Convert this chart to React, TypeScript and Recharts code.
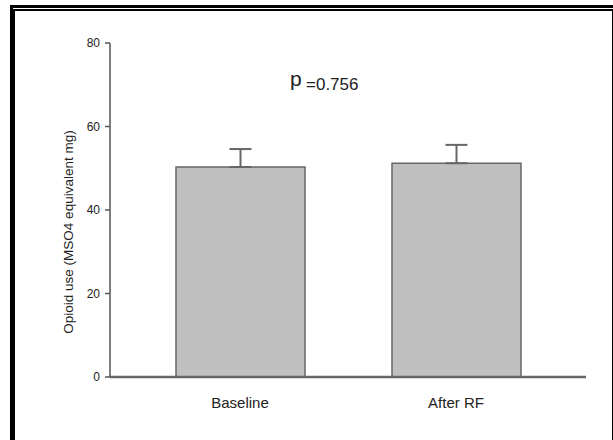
import React from "react";
import {
  BarChart,
  Bar,
  XAxis,
  YAxis,
  ErrorBar,
  Customized,
} from "recharts";

// values
const categories = ["Baseline", "After RF"];
const meanValues = [50.3, 51.2];
const errUpper = [4.3, 4.4];
const yTicks = [0, 20, 40, 60, 80];

const FONT = "'Liberation Sans', Arial, sans-serif";
const TEXT = "#222";

const data = categories.map((name, i) => ({
  name,
  value: meanValues[i],
  err: [0, errUpper[i]],
}));

const PLabel = () => (
  <g fontFamily={FONT} fill={TEXT}>
    <text x={290} y={86} fontSize={21}>
      p
    </text>
    <text x={306} y={90} fontSize={17}>
      =0.756
    </text>
  </g>
);

const YLabel = () => (
  <text
    x={68}
    y={232}
    transform="rotate(-90 68 232)"
    textAnchor="middle"
    dominantBaseline="central"
    fontFamily={FONT}
    fontSize={13.5}
    fill={TEXT}
  >
    Opioid use (MSO4 equivalent mg)
  </text>
);

const line = (style: React.CSSProperties) => (
  <div style={{ position: "absolute", background: "#000", ...style }} />
);

export default function App() {
  return (
    <div
      style={{
        position: "absolute",
        left: 0,
        top: 0,
        width: 613,
        height: 440,
        background: "#fff",
        overflow: "hidden",
      }}
    >
      {/* picture frame */}
      {line({ left: 10, top: 5, width: 603, height: 3 })}
      {line({ left: 10, top: 5, width: 3, height: 435 })}
      {line({ left: 13, top: 9, width: 600, height: 1.5 })}
      {line({ left: 13, top: 9, width: 1.5, height: 431 })}
      {line({ left: 611.5, top: 9, width: 1.5, height: 431 })}

      <div style={{ position: "absolute", left: 0, top: 0 }}>
        <BarChart
          width={613}
          height={440}
          data={data}
          margin={{ top: 43, right: 27, bottom: 33, left: 50 }}
        >
          <XAxis
            dataKey="name"
            height={30}
            padding={{ left: 22, right: 22 }}
            tickLine={false}
            tickSize={10}
            tickMargin={10}
            axisLine={{ stroke: "#666", strokeWidth: 2.5 }}
            tick={{ fill: TEXT, fontSize: 15, fontFamily: FONT }}
          />
          <YAxis
            width={60}
            domain={[0, 80]}
            ticks={yTicks}
            interval={0}
            tickSize={5}
            tickMargin={5}
            axisLine={{ stroke: "#555", strokeWidth: 1.5 }}
            tickLine={{ stroke: "#555", strokeWidth: 1.5 }}
            tick={{ fill: TEXT, fontSize: 12, fontFamily: FONT }}
            label={{ content: () => <YLabel /> }}
          />
          <Bar
            dataKey="value"
            fill="#c0c0c0"
            stroke="#666"
            strokeWidth={1.5}
            barSize={129}
            isAnimationActive={false}
          >
            <ErrorBar
              dataKey="err"
              direction="y"
              width={11}
              stroke="#666"
              strokeWidth={2}
            />
          </Bar>
          <Customized component={PLabel} />
        </BarChart>
      </div>
    </div>
  );
}
